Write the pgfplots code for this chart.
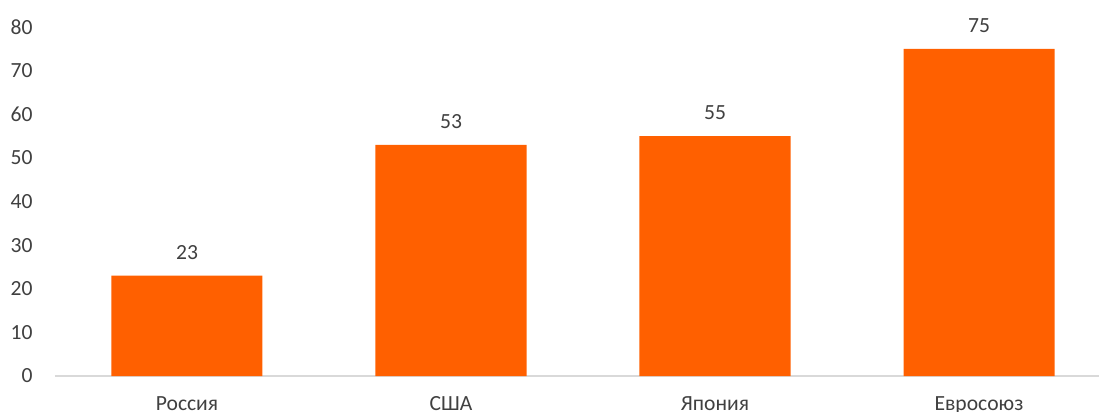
\documentclass[border=0pt]{standalone}
\usepackage{fontspec}
\setmainfont{Carlito}
\usepackage{pgfplots}
\pgfplotsset{compat=1.18}
\definecolor{barorange}{HTML}{FF6000}
\definecolor{axgray}{HTML}{D9D9D9}
\definecolor{txt}{HTML}{404040}
\begin{document}
\begin{tikzpicture}
\useasboundingbox (0pt,0pt) rectangle (549.5pt,-206pt);
\begin{axis}[
  at={(27.5pt,-188pt)}, anchor=south west,
  scale only axis,
  width=528pt, height=174.5pt,
  xmin=-0.5, xmax=3.5,
  ymin=0, ymax=80,
  ytick={0,10,...,80},
  xtick=data,
  xticklabels={Россия,США,Япония,Евросоюз},
  major tick length=0pt,
  axis x line*=bottom,
  axis y line*=left,
  x axis line style={draw=axgray, line width=0.8pt},
  y axis line style={draw=none},
  every axis x line/.append style={-},
  every axis y line/.append style={-},
  tick style={draw=none},
  font=\fontsize{10.8}{12}\selectfont,
  /pgf/number format/assume math mode=true,
  ticklabel style={text=txt},
  yticklabel style={anchor=east, inner sep=0pt, xshift=-11pt},
  xticklabel style={anchor=base, inner sep=0pt, yshift=-17pt},
  clip=false,
]
\addplot[ybar, bar width=75.5pt, fill=barorange, draw=none,
  nodes near coords,
  every node near coord/.append style={anchor=south, inner sep=0pt, yshift=8pt, text=txt, font=\fontsize{10.8}{12}\selectfont},
] coordinates {(0,23) (1,53) (2,55) (3,75)};
\end{axis}
\end{tikzpicture}
\end{document}
